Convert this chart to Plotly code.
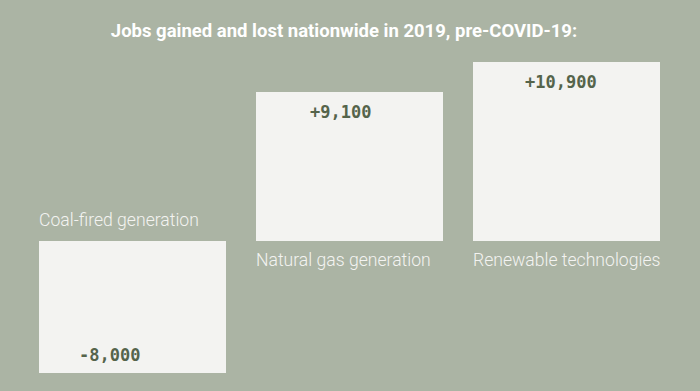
import plotly.graph_objects as go

categories = ["Coal-fired generation", "Natural gas generation", "Renewable technologies"]
values = [-8000, 9100, 10900]
value_labels = ["-8,000", "+9,100", "+10,900"]
title_text = "Jobs gained and lost nationwide in 2019, pre-COVID-19:"

BG = "#abb4a4"
BOX = "#f3f3f1"
VAL = "#55644b"

fig = go.Figure()
fig.add_trace(go.Bar(
    x=categories, y=values, width=0.866,
    marker=dict(color=BOX, line=dict(width=0)),
    hoverinfo="skip", showlegend=False,
))

value_xshift = [-23, -9, -6]
for i, (c, v, lab) in enumerate(zip(categories, values, value_labels)):
    fig.add_annotation(
        x=c, y=v, xref="x", yref="y", text=lab, showarrow=False,
        xanchor="center", yanchor="middle",
        yshift=(18 if v < 0 else -20), xshift=value_xshift[i],
        font=dict(family="DejaVu Sans Mono", size=17, color=VAL, weight="bold"),
    )
    fig.add_annotation(
        x=c, y=0, xref="x", yref="y", text=c, showarrow=False,
        xanchor="left", yanchor="middle",
        yshift=(21 if v < 0 else -19), xshift=-96,
        font=dict(family="Roboto", size=17.6, color=BOX, weight=300),
    )

fig.update_layout(
    width=700, height=391,
    paper_bgcolor=BG, plot_bgcolor=BG,
    margin=dict(l=24, r=25, t=0, b=0),
    bargap=0,
    xaxis=dict(visible=False, range=[-0.5, 2.5]),
    yaxis=dict(visible=False, range=[-9103, 14704]),
    title=dict(
        text=title_text, xref="container", yref="container",
        x=344 / 700, y=1 - 31 / 391, xanchor="center", yanchor="middle",
        font=dict(family="Roboto", size=18.5, color="white", weight="bold"),
    ),
)

fig.write_html("out.html", config={"displayModeBar": False},
               post_script="document.body.style.margin='0';")
